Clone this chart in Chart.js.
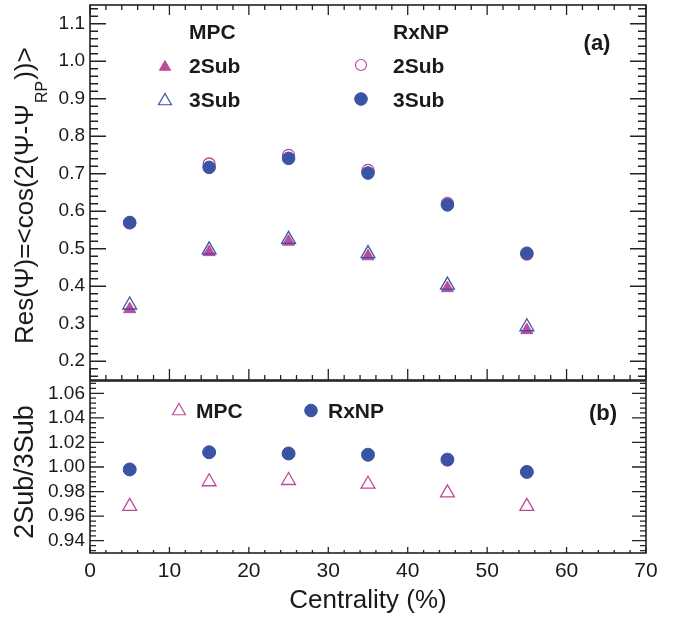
<!DOCTYPE html>
<html><head><meta charset="utf-8">
<script src="https://cdn.jsdelivr.net/npm/chart.js@4/dist/chart.umd.min.js"></script>
<style>
html,body{margin:0;padding:0;background:#fff;}
#wrap{position:relative;width:684px;height:618px;overflow:hidden;}
.pane{position:absolute;left:0;width:684px;}
</style></head><body>
<div id="wrap">
<div class="pane" style="top:0;height:381px"><canvas id="c1"></canvas></div>
<div class="pane" style="top:380px;height:238px"><canvas id="c2"></canvas></div>
</div>
<script>
// ---- data ----
const centrality = [5, 15, 25, 35, 45, 55];
const mpc2Sub  = [0.339, 0.491, 0.519, 0.480, 0.395, 0.283];
const mpc3Sub  = [0.350, 0.497, 0.525, 0.487, 0.403, 0.292];
const rxnp2Sub = [0.569, 0.726, 0.749, 0.709, 0.621, 0.486];
const rxnp3Sub = [0.570, 0.717, 0.741, 0.702, 0.617, 0.488];
const mpcRatio  = [0.968, 0.988, 0.989, 0.986, 0.979, 0.968];
const rxnpRatio = [0.998, 1.012, 1.011, 1.010, 1.006, 0.996];
const xTicks = [0, 10, 20, 30, 40, 50, 60, 70];
const topTicks = [0.2, 0.3, 0.4, 0.5, 0.6, 0.7, 0.8, 0.9, 1.0, 1.1];
const botTicks = [0.94, 0.96, 0.98, 1.00, 1.02, 1.04, 1.06];

const BLUE = '#3a53a4';
const PINK = '#bf4a9c';
const FONT = '"Liberation Sans", Arial, Helvetica, sans-serif';

const pts = (xs, ys) => xs.map((x, i) => ({x, y: ys[i]}));

function marker(ctx, style, x, y, r, fill, stroke, lw) {
  ctx.save();
  ctx.beginPath();
  if (style === 'circle') {
    ctx.arc(x, y, r, 0, Math.PI * 2);
  } else {
    for (let k = 0; k < 3; k++) {
      const a = k * 2 * Math.PI / 3;
      const px = x + Math.sin(a) * r, py = y - Math.cos(a) * r;
      if (k === 0) ctx.moveTo(px, py); else ctx.lineTo(px, py);
    }
    ctx.closePath();
  }
  if (fill) { ctx.fillStyle = fill; ctx.fill(); }
  if (stroke) { ctx.strokeStyle = stroke; ctx.lineWidth = lw; ctx.stroke(); }
  ctx.restore();
}

// draw frame + ROOT style inward ticks
function frameTicks(chart, cfg) {
  const ctx = chart.ctx, a = chart.chartArea;
  const xs = chart.scales.x, ys = chart.scales.y;
  ctx.save();
  ctx.strokeStyle = '#222';
  ctx.lineWidth = 1.3;
  ctx.beginPath();
  const yStepMinor = cfg.yMinor;
  for (let v = ys.min; v <= ys.max + 1e-9; v += yStepMinor) {
    const vv = Math.round(v / yStepMinor) * yStepMinor;
    const isMajor = Math.abs(vv / cfg.yMajor - Math.round(vv / cfg.yMajor)) < 1e-6;
    const p = ys.getPixelForValue(vv);
    if (p < a.top - 0.5 || p > a.bottom + 0.5) continue;
    const L = isMajor ? cfg.yMajLen : cfg.yMinLen;
    ctx.moveTo(a.left, p); ctx.lineTo(a.left + L, p);
    ctx.moveTo(a.right, p); ctx.lineTo(a.right - L, p);
  }
  for (let v = 0; v <= 70 + 1e-9; v += 2) {
    const isMajor = v % 10 === 0;
    const p = xs.getPixelForValue(v);
    const Lb = isMajor ? cfg.xMajLen : cfg.xMinLen;
    ctx.moveTo(p, a.bottom); ctx.lineTo(p, a.bottom - Lb);
    if (cfg.topTicks) {
      const Lt = isMajor ? cfg.xtMajLen : cfg.xtMinLen;
      ctx.moveTo(p, a.top); ctx.lineTo(p, a.top + Lt);
    }
  }
  ctx.stroke();
  ctx.lineWidth = 1.6;
  ctx.strokeRect(a.left, a.top, a.right - a.left, a.bottom - a.top);
  ctx.restore();
}

function txt(ctx, s, x, y, font, align) {
  ctx.save();
  ctx.font = font; ctx.fillStyle = '#1a1a1a';
  ctx.textAlign = align || 'left'; ctx.textBaseline = 'alphabetic';
  ctx.fillText(s, x, y);
  ctx.restore();
}

const topPlugin = {
  id: 'topDeco',
  afterDraw(chart) {
    const ctx = chart.ctx;
    frameTicks(chart, {yMinor: 0.02, yMajor: 0.1, yMajLen: 16, yMinLen: 8,
      xMajLen: 11, xMinLen: 5, topTicks: true, xtMajLen: 10, xtMinLen: 5});
    const B = 'bold 21px ' + FONT;
    txt(ctx, 'MPC', 189, 39, B);
    txt(ctx, 'RxNP', 393, 39, B);
    txt(ctx, '2Sub', 189, 73, B);
    txt(ctx, '3Sub', 189, 107, B);
    txt(ctx, '2Sub', 393, 73, B);
    txt(ctx, '3Sub', 393, 107, B);
    txt(ctx, '(a)', 597, 50, 'bold 22px ' + FONT, 'center');
    marker(ctx, 'triangle', 165, 67, 6.5, PINK, PINK, 1);
    marker(ctx, 'triangle', 165, 101, 7.5, null, BLUE, 1.2);
    marker(ctx, 'circle', 361, 65, 5.5, null, PINK, 1.2);
    marker(ctx, 'circle', 361, 99, 6.3, BLUE, BLUE, 1);
    // y title with subscript
    ctx.save();
    ctx.translate(33, 344);
    ctx.rotate(-Math.PI / 2);
    ctx.fillStyle = '#1a1a1a';
    ctx.textBaseline = 'alphabetic';
    ctx.font = '26px ' + FONT;
    const s1 = 'Res(\u03A8)=<cos(2(\u03A8-\u03A8';
    const s2 = 'RP';
    const s3 = '))>';
    let x = 0;
    ctx.fillText(s1, x, 0); x += ctx.measureText(s1).width;
    ctx.font = '16px ' + FONT;
    ctx.fillText(s2, x + 1, 14); x += ctx.measureText(s2).width + 2;
    ctx.font = '26px ' + FONT;
    ctx.fillText(s3, x, 0);
    ctx.restore();
  }
};

const botPlugin = {
  id: 'botDeco',
  afterDraw(chart) {
    const ctx = chart.ctx;
    frameTicks(chart, {yMinor: 0.004, yMajor: 0.02, yMajLen: 14, yMinLen: 6,
      xMajLen: 6, xMinLen: 3, topTicks: false});
    const B = 'bold 21px ' + FONT;
    // positions relative to this canvas (offset 380)
    marker(ctx, 'triangle', 179, 31, 7.5, null, PINK, 1.2);
    txt(ctx, 'MPC', 196, 38, B);
    marker(ctx, 'circle', 311, 30.5, 6.3, BLUE, BLUE, 1);
    txt(ctx, 'RxNP', 328, 38, B);
    txt(ctx, '(b)', 603, 40, 'bold 22px ' + FONT, 'center');
    txt(ctx, 'Centrality (%)', 368, 228, '26px ' + FONT, 'center');
    ctx.save();
    ctx.translate(33, 92);
    ctx.rotate(-Math.PI / 2);
    txt(ctx, '2Sub/3Sub', 0, 0, '27px ' + FONT, 'center');
    ctx.restore();
  }
};

const noPad = s => { s.paddingTop = 0; s.paddingBottom = 0; s.paddingLeft = 0; s.paddingRight = 0; };

const xScale = (display, extra) => Object.assign({
  type: 'linear', min: 0, max: 70, display,
  afterBuildTicks: s => { s.ticks = xTicks.map(v => ({value: v})); },
  grid: {display: false, drawTicks: false},
  border: {display: false},
}, extra || {});

new Chart(document.getElementById('c1'), {
  type: 'scatter',
  data: {datasets: [
    {label: 'RxNP 3Sub', data: pts(centrality, rxnp3Sub), pointStyle: 'circle', pointRadius: 6.3,
     backgroundColor: BLUE, borderColor: BLUE, borderWidth: 1, order: 0},
    {label: 'RxNP 2Sub', data: pts(centrality, rxnp2Sub), pointStyle: 'circle', pointRadius: 6,
     backgroundColor: 'rgba(0,0,0,0)', borderColor: PINK, borderWidth: 1.3, order: 1},
    {label: 'MPC 3Sub', data: pts(centrality, mpc3Sub), pointStyle: 'triangle', pointRadius: 8,
     backgroundColor: 'rgba(0,0,0,0)', borderColor: BLUE, borderWidth: 1.3, order: 2},
    {label: 'MPC 2Sub', data: pts(centrality, mpc2Sub), pointStyle: 'triangle', pointRadius: 7,
     backgroundColor: PINK, borderColor: PINK, borderWidth: 1, order: 3},
  ]},
  options: {
    responsive: true, maintainAspectRatio: false, animation: false,
    layout: {autoPadding: false, padding: {top: 5, right: 38, bottom: 1, left: 0}},
    plugins: {legend: {display: false}, tooltip: {enabled: false}},
    scales: {
      x: xScale(false),
      y: {type: 'linear', min: 0.15, max: 1.15,
        afterBuildTicks: s => { s.ticks = topTicks.map(v => ({value: v})); },
        afterFit: s => { s.width = 90; noPad(s); },
        grid: {display: false, drawTicks: false}, border: {display: false},
        ticks: {padding: 5, color: '#1a1a1a', font: {family: FONT, size: 19},
          callback: v => v.toFixed(1)}}
    }
  },
  plugins: [topPlugin]
});

new Chart(document.getElementById('c2'), {
  type: 'scatter',
  data: {datasets: [
    {label: 'RxNP', data: pts(centrality, rxnpRatio), pointStyle: 'circle', pointRadius: 6.5,
     backgroundColor: BLUE, borderColor: BLUE, borderWidth: 1},
    {label: 'MPC', data: pts(centrality, mpcRatio), pointStyle: 'triangle', pointRadius: 8,
     backgroundColor: 'rgba(0,0,0,0)', borderColor: PINK, borderWidth: 1.3},
  ]},
  options: {
    responsive: true, maintainAspectRatio: false, animation: false,
    layout: {autoPadding: false, padding: {top: 1, right: 38, bottom: 0, left: 0}},
    plugins: {legend: {display: false}, tooltip: {enabled: false}},
    scales: {
      x: xScale(true, {
        afterFit: s => { s.height = 65; noPad(s); },
        ticks: {padding: 6, color: '#1a1a1a', font: {family: FONT, size: 21}, maxRotation: 0,
          callback: v => String(v)}}),
      y: {type: 'linear', min: 0.93, max: 1.07,
        afterBuildTicks: s => { s.ticks = botTicks.map(v => ({value: v})); },
        afterFit: s => { s.width = 90; noPad(s); },
        grid: {display: false, drawTicks: false}, border: {display: false},
        ticks: {padding: 5, color: '#1a1a1a', font: {family: FONT, size: 19},
          callback: v => v.toFixed(2)}}
    }
  },
  plugins: [botPlugin]
});
</script>
</body></html>
